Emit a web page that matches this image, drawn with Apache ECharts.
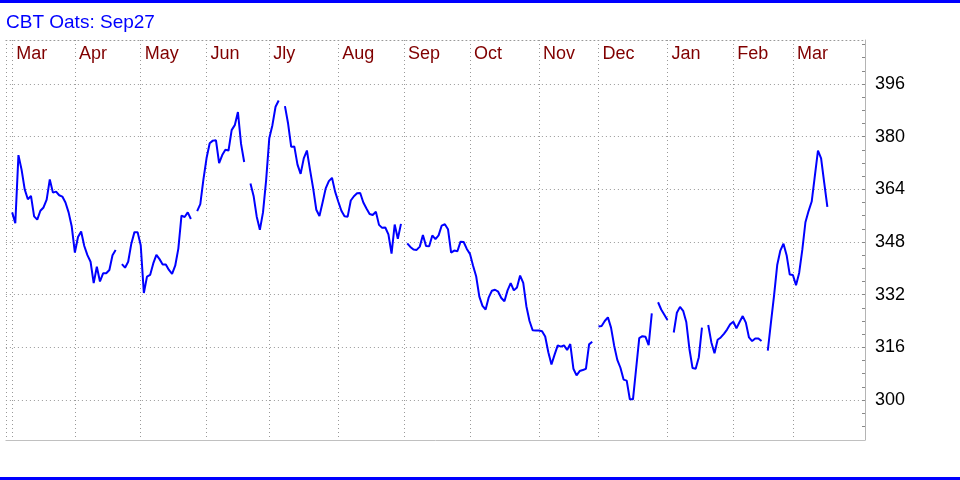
<!DOCTYPE html>
<html><head><meta charset="utf-8">
<script src="https://cdn.jsdelivr.net/npm/echarts@6/dist/echarts.min.js"></script>
<style>html,body{margin:0;padding:0;background:#fff}#c{width:960px;height:480px}</style>
</head><body><div id="c"></div>
<script>
const monthNames = ['Mar','Apr','May','Jun','Jly','Aug','Sep','Oct','Nov','Dec','Jan','Feb','Mar'];
const monthStartDay = [0,20,41,62,82,104,125,146,168,187,209,230,249];
const yMajorTicks = [300,316,332,348,364,380,396];
const yMinorTicks = [292,296,300,304,308,312,316,320,324,328,332,336,340,344,348,352,356,360,364,368,372,376,380,384,388,392,396,400,404,408];
const prices = [
357.0,353.7,374.4,370.0,364.0,361.0,362.0,355.8,354.8,357.5,
358.5,360.9,367.0,363.0,363.3,362.2,361.8,360.0,357.0,352.7,
344.8,349.5,351.2,346.8,344.0,342.0,335.5,340.5,336.0,338.5,
338.5,339.5,344.0,345.6,null,341.3,340.2,342.0,347.5,351.0,
351.0,347.0,332.5,337.5,338.0,341.5,344.1,342.8,341.2,341.2,
339.5,338.3,340.8,346.0,356.0,355.6,357.0,355.0,null,357.4,
359.5,367.0,373.5,378.0,378.8,378.9,372.0,374.4,376.0,375.8,
382.0,383.5,387.5,377.8,372.3,null,365.8,362.0,355.7,351.7,
357.0,366.8,379.5,383.5,389.1,391.0,null,389.3,384.0,376.9,
377.0,371.5,368.7,373.4,375.8,369.9,364.3,357.8,355.9,360.0,
364.3,366.5,367.5,363.3,360.3,357.5,355.8,355.7,360.6,361.9,
362.8,362.9,360.0,358.2,356.5,356.2,357.2,353.2,352.3,352.4,
350.3,344.5,353.3,349.0,353.5,null,347.6,346.5,345.7,345.6,
346.6,350.1,346.8,346.7,350.0,348.9,350.0,353.0,353.4,351.9,
344.8,345.4,345.2,348.1,348.0,345.9,344.4,340.8,337.5,331.4,
328.6,327.5,331.2,333.2,333.5,332.9,331.0,330.0,333.3,335.5,
333.3,334.2,337.8,335.6,328.5,324.0,321.2,321.1,321.1,320.9,
319.3,314.5,310.8,313.8,316.6,316.2,316.6,315.2,317.0,309.5,
307.5,308.8,309.1,309.5,316.9,317.7,null,322.3,322.5,324.0,
325.1,322.0,316.5,312.2,309.8,306.2,305.9,300.2,300.2,309.5,
318.8,319.4,319.2,316.7,326.3,null,329.7,327.5,325.9,324.3,
null,320.5,326.5,328.3,327.1,323.7,315.5,309.7,309.5,313.0,
322.0,null,322.8,317.5,314.2,318.3,319.0,320.1,321.4,323.0,
323.8,321.8,323.7,325.5,323.5,319.0,317.9,318.7,318.7,317.9,
null,315.0,323.5,331.8,341.0,345.4,347.5,344.0,338.1,338.0,
334.9,338.6,345.6,354.0,357.4,360.3,368.0,375.8,373.4,366.0,
358.7
];

const LEAD = 2, TOTAL = 275;
const categories = [];
for (let k = 0; k < TOTAL; k++) categories.push(String(k - LEAD));
const seriesData = categories.map((c, k) => {
  const d = k - LEAD;
  return (d >= 0 && d < prices.length) ? prices[d] : null;
});
const monthAt = {};
monthStartDay.forEach((d, i) => { monthAt[String(d)] = monthNames[i]; });

const font = '"Liberation Sans", Arial, sans-serif';
const Y_MIN = 287.85, Y_MAX = 409.37;
const dotted = { color: '#999', width: 1, type: [1, 3] };

const chart = echarts.init(document.getElementById('c'), null, { renderer: 'canvas' });
chart.setOption({
  animation: false,
  backgroundColor: '#fff',
  title: {
    text: 'CBT Oats: Sep27', left: 6, top: 13, padding: 0,
    textStyle: { color: '#0000ff', fontSize: 19, fontWeight: 'normal', fontFamily: font }
  },
  grid: { left: 5.9, right: 95, top: 40, bottom: 40, containLabel: false },
  xAxis: [{
    type: 'category', position: 'top', data: categories, boundaryGap: false,
    axisLine: { show: true, lineStyle: dotted },
    axisTick: { show: false },
    axisLabel: {
      inside: true, margin: 14, verticalAlign: 'middle', align: 'left', padding: [0, 0, 0, 4],
      interval: (i, v) => monthAt[v] !== undefined,
      formatter: (v) => monthAt[v] || '',
      color: '#800000', fontSize: 18, fontFamily: font
    },
    splitLine: { show: true, interval: (i, v) => i === 0 || monthAt[v] !== undefined, lineStyle: dotted }
  }, {
    type: 'category', position: 'bottom', data: categories, boundaryGap: false,
    axisLine: { show: true, lineStyle: { color: '#c0c0c0', width: 1 } },
    axisTick: { show: false }, axisLabel: { show: false }, splitLine: { show: false }
  }],
  yAxis: [{
    type: 'value', position: 'right', min: Y_MIN, max: Y_MAX,
    axisLine: { show: false },
    axisTick: { show: false, customValues: yMajorTicks },
    axisLabel: { customValues: yMajorTicks, color: '#000', fontSize: 18, fontFamily: font, margin: 10 },
    splitLine: { show: true, lineStyle: dotted }
  }, {
    type: 'value', position: 'right', min: Y_MIN, max: Y_MAX,
    axisLine: { show: true, lineStyle: { color: '#b4b4b4', width: 1 } },
    axisTick: { show: true, inside: true, length: 3, customValues: yMinorTicks, lineStyle: { color: '#888' } },
    axisLabel: { show: false },
    splitLine: { show: false }
  }],
  series: [{
    type: 'line', xAxisIndex: 0, yAxisIndex: 0, data: seriesData,
    showSymbol: false, connectNulls: false,
    lineStyle: { color: '#0000ff', width: 2 }, itemStyle: { color: '#0000ff' }
  }],
  graphic: [
    { type: 'rect', shape: { x: 0, y: 0, width: 960, height: 3 }, style: { fill: '#0000ff' } },
    { type: 'rect', shape: { x: 0, y: 477, width: 960, height: 3 }, style: { fill: '#0000ff' } }
  ]
});
</script>
</body></html>
